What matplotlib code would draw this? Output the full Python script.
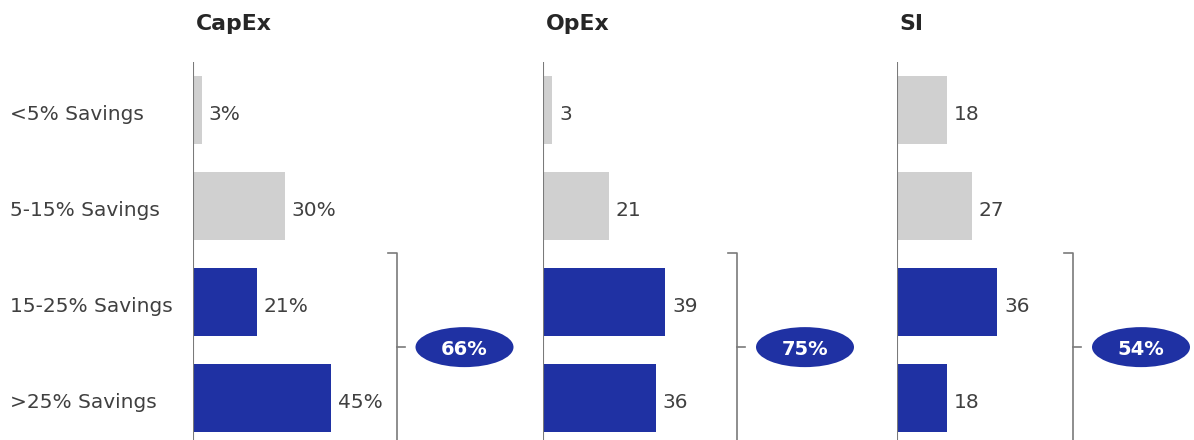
import matplotlib
matplotlib.use("Agg")
import matplotlib.pyplot as plt
from matplotlib.patches import Ellipse
from matplotlib.lines import Line2D

plt.rcParams['font.family'] = ['DejaVu Sans']

# ---- data ----
categories = ["<5% Savings", "5-15% Savings", "15-25% Savings", ">25% Savings"]
titles = ["CapEx", "OpEx", "SI"]
capex_vals = [3, 30, 21, 45]
opex_vals = [3, 21, 39, 36]
si_vals = [18, 27, 36, 18]
value_suffix = ["%", "", ""]

series = [capex_vals, opex_vals, si_vals]
highlight = [False, False, True, True]

BLUE = "#1F31A3"
GREY_BAR = "#D0D0D0"
TEXT = "#404040"
LINE = "#7A7A7A"

W, H = 1194, 440
fig = plt.figure(figsize=(W / 100, H / 100), dpi=100)

# panel geometry in pixels: axis line x, bracket x, pixels per unit
axis_x = [192.5, 542.5, 896.5]
bracket_x = [396.5, 737.0, 1073.0]
px_per_unit = [3.07, 3.15, 2.79]

top_px = 62
row0_px = 110
pitch_px = 96
y_top = (top_px - row0_px) / pitch_px
y_bot = (H - row0_px) / pitch_px
base_px = 9.5
base_off = base_px / pitch_px  # baseline offset below a row centre

for k in range(3):
    left = axis_x[k] / W
    width = (bracket_x[k] - axis_x[k]) / W
    ax = fig.add_axes([left, 0, width, (H - top_px) / H])
    xmax = (bracket_x[k] - axis_x[k]) / px_per_unit[k]
    ax.set_xlim(0, xmax)
    ax.set_ylim(y_bot, y_top)
    ax.axis("off")
    ax.axvline(0, color=LINE, lw=1.5, zorder=3)

    vals = series[k]
    ys = list(range(len(vals)))
    colors = [BLUE if h else GREY_BAR for h in highlight]
    ax.barh(ys, vals, height=0.70, color=colors, zorder=2)
    for y, v in zip(ys, vals):
        ax.text(v + 7 / px_per_unit[k], y + base_off, f"{v}{value_suffix[k]}",
                ha="left", va="baseline", fontsize=14.5, color=TEXT)

    # bracket around the highlighted bars
    ub = 1 / px_per_unit[k]
    b_top, b_bot = 1.49, 3.45
    b_mid = (b_top + b_bot) / 2
    for xs, yv in [([xmax - 9 * ub, xmax, xmax, xmax - 9 * ub], [b_top, b_top, b_bot, b_bot]),
                   ([xmax, xmax + 8 * ub], [b_mid, b_mid])]:
        ax.add_line(Line2D(xs, yv, color=LINE, lw=1.2, clip_on=False))

    total = sum(v for v, h in zip(vals, highlight) if h)
    cx = xmax + 68 * ub
    ax.add_patch(Ellipse((cx, b_mid), 98 * ub, 40 / pitch_px,
                         facecolor=BLUE, edgecolor="none", clip_on=False, zorder=4))
    ax.text(cx, b_mid + 7.5 / pitch_px, f"{total}%", ha="center", va="baseline",
            fontsize=14, fontweight="bold", color="white", zorder=5)

    fig.text((axis_x[k] + 3) / W, 1 - 30 / H, titles[k], ha="left", va="baseline",
             fontsize=15.8, fontweight="bold", color="#262626")

# category labels
for i, c in enumerate(categories):
    fig.text(10 / W, 1 - (row0_px + pitch_px * i + base_px) / H, c, ha="left",
             va="baseline", fontsize=14.5, color=TEXT)

fig.savefig("out.png", dpi=100)
